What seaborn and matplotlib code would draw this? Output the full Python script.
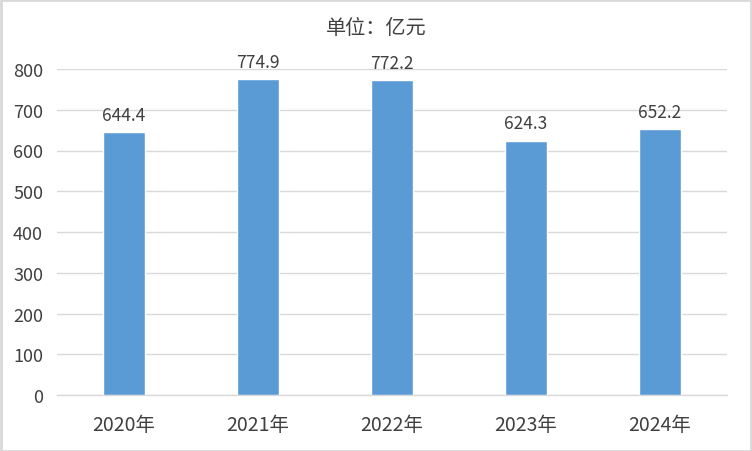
import matplotlib
matplotlib.use("Agg")
import matplotlib.pyplot as plt
import seaborn as sns
import pandas as pd

years = ["2020年", "2021年", "2022年", "2023年", "2024年"]
values = [644.4, 774.9, 772.2, 624.3, 652.2]
yticks = [0, 100, 200, 300, 400, 500, 600, 700, 800]

sns.set_theme(style="white")
plt.rcParams['font.family'] = ['Noto Sans CJK SC', 'DejaVu Sans']

df = pd.DataFrame({"year": years, "value": values})

fig = plt.figure(figsize=(7.52, 4.52), dpi=100)
ax = fig.add_axes([57/752, 1-396/452, 670/752, 326/452])
sns.barplot(data=df, x="year", y="value", color="#5B9BD5", width=0.31,
            saturation=1, ax=ax, zorder=3)
ax.set_ylim(0, 800)
ax.set_yticks(yticks)
ax.yaxis.grid(True, color="#D9D9D9", linewidth=1, zorder=0)
ax.set_axisbelow(True)
for s in ["top", "right", "left"]:
    ax.spines[s].set_visible(False)
ax.spines["bottom"].set_color("#D9D9D9")
ax.spines["bottom"].set_linewidth(1)
ax.set_xlabel("")
ax.set_ylabel("")
ax.tick_params(axis="y", length=0, labelsize=13, labelcolor="#404040", pad=10)
ax.tick_params(axis="x", length=0, labelsize=14, labelcolor="#404040", pad=14)
for i, v in enumerate(values):
    ax.annotate(f"{v:.1f}", (i, v), xytext=(0, 6), textcoords="offset points",
                ha="center", va="bottom", fontsize=12.5, color="#404040")
fig.text(0.5, 1-28.5/452, "单位：亿元", ha="center", va="center", fontsize=14.5, color="#404040")
fig.patches.append(plt.Rectangle((0.001, 0.001), 0.998, 0.997, transform=fig.transFigure,
                                 fill=False, edgecolor="#D9D9D9", linewidth=2))
fig.savefig("out.png", dpi=100)
